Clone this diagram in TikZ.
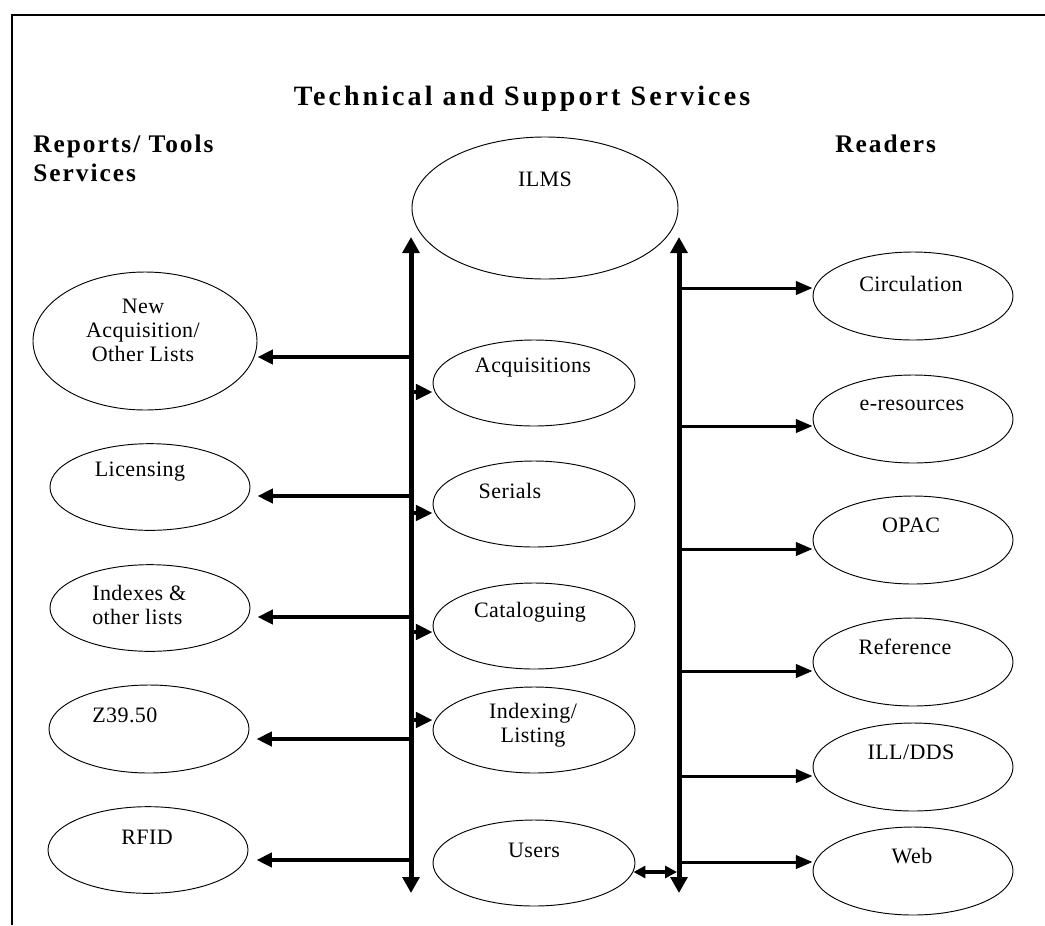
\documentclass[tikz,border=0pt]{standalone}
\usepackage{fontspec}
\setmainfont{Liberation Serif}
\usetikzlibrary{shapes.geometric,arrows.meta,calc}
\begin{document}
\begin{tikzpicture}[x=0.75pt,y=-0.75pt,
  oval/.style={draw, ellipse, line width=0.7pt, inner sep=0pt,
               minimum width=150pt, minimum height=65pt},
  bigoval/.style={oval, minimum width=199.5pt, minimum height=106.5pt},
  txt/.style={inner sep=0pt, align=center,
              font={\fontsize{16.5}{18}\selectfont\addfontfeature{LetterSpace=2}}},
  ltxt/.style={txt, align=left, anchor=west},
  headtxt/.style={inner sep=0pt, align=left,
              font={\fontsize{19}{21.75}\selectfont\bfseries\addfontfeature{LetterSpace=8}}},
  titletxt/.style={inner sep=0pt,
              font={\fontsize{21}{24}\selectfont\bfseries\addfontfeature{LetterSpace=11}}},
  frame/.style={line width=1.5pt},
  bus/.style={line width=3.75pt,
              {Triangle[length=12pt,width=12.5pt]}-{Triangle[length=12pt,width=12.5pt]}},
  outarr/.style={line width=3pt, -{Triangle[length=11.5pt,width=10.5pt]}},
  readarr/.style={line width=2.25pt, -{Triangle[length=12.5pt,width=10pt]}},
  modarr/.style={line width=2.8pt, -{Triangle[length=12.5pt,width=11.5pt]}},
  duplex/.style={line width=2.5pt,
              {Triangle[length=9pt,width=9pt]}-{Triangle[length=9pt,width=9pt]}}
]
\useasboundingbox (0,0) rectangle (1045,925);

% outer frame
\coordinate (fb) at (12,925);
\coordinate (ftl) at (12,15);
\coordinate (fr) at (1045,15);
\draw[frame] (fb) -- (ftl) -- (fr);

% headings
\node[titletxt, anchor=base] (title) at (522,105) {Technical and Support Services};
\node[headtxt, anchor=north west] (reports) at (33,135) {Reports/ Tools\\Services};
\node[headtxt, anchor=base west] (readers) at (835,152) {Readers};

% central system and its modules
\node[bigoval] (ilms) at (545,208) {};
\node[txt] (t-ilms) at (545,179) {ILMS};
\node[oval, minimum width=151.5pt, minimum height=64.5pt] (acq) at (534,383) {};
\node[txt] (t-acq) at (533,368) {Acquisitions};
\node[oval, minimum width=151.5pt, minimum height=64.5pt] (ser) at (534,504) {};
\node[txt] (t-ser) at (510,491) {Serials};
\node[oval, minimum width=151.5pt, minimum height=64.5pt] (cat) at (534,626) {};
\node[txt] (t-cat) at (530,612) {Cataloguing};
\node[oval, minimum width=151.5pt, minimum height=64.5pt] (idx) at (534,730) {};
\node[txt] (t-idx) at (533,725) {Indexing/\\Listing};
\node[oval, minimum width=151.5pt, minimum height=64.5pt] (usr) at (534,863) {};
\node[txt] (t-usr) at (534,850) {Users};

% reports / tools services
\node[oval, minimum width=168pt, minimum height=103.5pt] (newacq) at (145,341) {};
\node[txt] (t-newacq) at (143,330) {New\\Acquisition/\\Other Lists};
\node[oval] (lic) at (150,487) {};
\node[txt] (t-lic) at (140,472) {Licensing};
\node[oval] (ixl) at (150,608) {};
\node[ltxt] (t-ixl) at (92,605) {Indexes \&\\other lists};
\node[oval, minimum height=66pt] (z39) at (149,729) {};
\node[ltxt] (t-z39) at (92,715) {Z39.50};
\node[oval] (rfid) at (148,850) {};
\node[txt] (t-rfid) at (147,837) {RFID};

% reader services
\node[oval, minimum height=66pt] (circ) at (913,296) {};
\node[txt] (t-circ) at (911,284) {Circulation};
\node[oval, minimum height=66pt] (eres) at (913,419) {};
\node[txt] (t-eres) at (912,405) {e-resources};
\node[oval, minimum height=66pt] (opac) at (913,540) {};
\node[txt] (t-opac) at (911,525) {OPAC};
\node[oval, minimum height=66pt] (refn) at (913,662) {};
\node[txt] (t-refn) at (905,647) {Reference};
\node[oval, minimum height=66pt] (ill) at (913,767) {};
\node[txt] (t-ill) at (911,752) {ILL/DDS};
\node[oval, minimum height=66pt] (web) at (913,871) {};
\node[txt] (t-web) at (912,856) {Web};

% vertical buses
\coordinate (lt) at (411,237);
\coordinate (lb) at (411,893);
\coordinate (rt) at (679,237);
\coordinate (rb) at (679,893);
\draw[bus] (lt) -- (lb);
\draw[bus] (rt) -- (rb);

% left bus to report services
\coordinate (l1) at (411,357);
\coordinate (l2) at (411,496);
\coordinate (l3) at (411,617);
\coordinate (l4) at (411,739);
\coordinate (l5) at (411,860);
\draw[outarr] (l1) -- (l1 -| newacq.east);
\draw[outarr] (l2) -- ($(l2 -| lic.east)+(7,0)$);
\draw[outarr] (l3) -- ($(l3 -| ixl.east)+(7,0)$);
\draw[outarr] (l4) -- ($(l4 -| z39.east)+(7,0)$);
\draw[outarr] (l5) -- ($(l5 -| rfid.east)+(8,0)$);

% left bus to modules
\coordinate (m1) at (411,392);
\coordinate (m2) at (411,513);
\coordinate (m3) at (411,632);
\coordinate (m4) at (411,720);
\draw[modarr] (m1) -- (m1 -| acq.west);
\draw[modarr] (m2) -- (m2 -| ser.west);
\draw[modarr] (m3) -- (m3 -| cat.west);
\draw[modarr] (m4) -- (m4 -| idx.west);

% right bus to reader services
\coordinate (r1) at (679,288);
\coordinate (r2) at (679,426);
\coordinate (r3) at (679,549);
\coordinate (r4) at (679,671);
\coordinate (r5) at (679,776);
\coordinate (r6) at (679,862);
\draw[readarr] (r1) -- (r1 -| circ.west);
\draw[readarr] (r2) -- (r2 -| eres.west);
\draw[readarr] (r3) -- (r3 -| opac.west);
\draw[readarr] (r4) -- (r4 -| refn.west);
\draw[readarr] (r5) -- (r5 -| ill.west);
\draw[readarr] (r6) -- (r6 -| web.west);

% users link
\coordinate (u1) at (677,872);
\draw[duplex] ($(u1 -| usr.east)+(-2,0)$) -- (u1);
\end{tikzpicture}
\end{document}
